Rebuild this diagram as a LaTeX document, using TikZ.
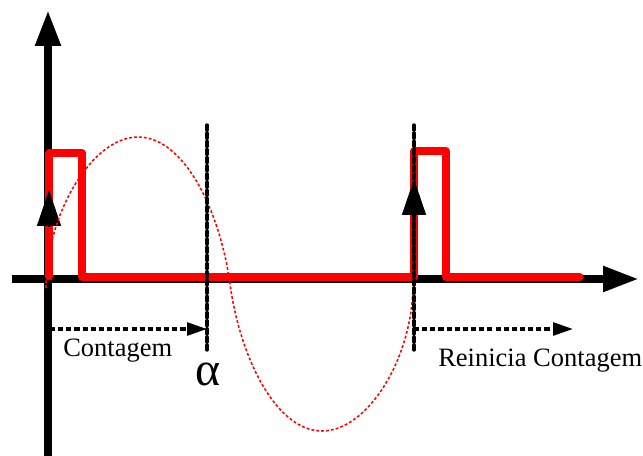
\documentclass[tikz,border=0pt]{standalone}
\usepackage{fontspec}
\setmainfont{Liberation Serif}
\usepackage{tikz}
\usetikzlibrary{calc, arrows.meta}
\usepackage{tkz-euclide}

\begin{document}
\begin{tikzpicture}[scale=0.5,
                eixo/.style={line width=5.7pt, -{Triangle[length=0.9cm,width=0.6cm]}},
                pulso/.style={red, line width=5pt, line cap=round, line join=round},
                guia/.style={line width=2.4pt, dash pattern=on 3.6pt off 2.2pt},
                seta/.style={guia, -{Triangle[length=0.5cm,width=0.32cm]}},
                rotulo/.style={font=\fontsize{18.85}{22}\selectfont, inner sep=0pt, anchor=base west}]
                \useasboundingbox (0,0) rectangle (32.15,22.8);
                \tkzDefPoint(2.4,0){Y0}
                \tkzDefPoint(2.4,22.3){Y1}
                \tkzDefPoint(0.6,8.85){X0}
                \tkzDefPoint(31.95,8.85){X1}
                \tkzDefPoint(2.45,8.95){A}
                \tkzDefPoint(2.45,15.15){B}
                \tkzDefPoint(4.1,15.15){C}
                \tkzDefPoint(4.1,8.95){D}
                \tkzDefPoint(20.7,8.95){E}
                \tkzDefPoint(20.7,15.25){F}
                \tkzDefPoint(22.3,15.25){G}
                \tkzDefPoint(22.3,8.95){H}
                \tkzDefPoint(29,8.95){I}
                \tkzDefPoint(2.45,11.5){M1}
                \tkzDefPoint(2.45,13.3){N1}
                \tkzDefPoint(20.7,12.05){M2}
                \tkzDefPoint(20.7,13.85){N2}
                \tkzDefPoint(2.3,8.4){S0}
                \tkzDefPoint(6.9,15.95){P}
                \tkzDefPoint(11.5,8.6){Z}
                \tkzDefPoint(16.1,1.25){T}
                \tkzDefPoint(20.65,8.6){S1}
                \tkzDefPoint(10.35,16.55){Q1}
                \tkzDefPoint(10.35,5.3){R1}
                \tkzDefPoint(20.7,16.55){Q2}
                \tkzDefPoint(20.7,5.3){R2}
                \tkzDefPoint(2.5,6.35){K1}
                \tkzDefPoint(10.35,6.35){L1}
                \tkzDefPoint(20.7,6.35){K2}
                \tkzDefPoint(28.65,6.35){L2}
                \draw[eixo] (Y0) -- (Y1);
                \draw[eixo] (X0) -- (X1);
                \draw[pulso] (A) -- (B) -- (C) -- (D) -- (E) -- (F) -- (G) -- (H) -- (I);
                \draw[line width=1pt, -{Triangle[length=0.9cm,width=0.6cm]}] (M1) -- (N1);
                \draw[line width=1pt, -{Triangle[length=0.9cm,width=0.6cm]}] (M2) -- (N2);
                \draw[red, line width=1.1pt, dash pattern=on 2pt off 1.5pt] (S0)
                    .. controls ($(S0)+(0,3.675)$) and ($(P)-(2.3,0)$) .. (P)
                    .. controls ($(P)+(2.3,0)$) and ($(Z)+(-0.5,3.675)$) .. (Z)
                    .. controls ($(Z)+(0.5,-3.675)$) and ($(T)-(2.3,0)$) .. (T)
                    .. controls ($(T)+(2.3,0)$) and ($(S1)-(0,3.675)$) .. (S1);
                \tkzDrawSegments[guia](Q1,R1 Q2,R2)
                \draw[seta] (K1) -- (L1);
                \draw[seta] (K2) -- (L2);
                \node[rotulo] (cont) at (3.15,4.95) {Contagem};
                \node[rotulo] (rein) at (21.9,4.45) {Reinicia Contagem};
                \node[font=\fontsize{34}{40}\selectfont, inner sep=0pt] (alfa) at (10.4,4.1) {α};
            \end{tikzpicture}
\end{document}
